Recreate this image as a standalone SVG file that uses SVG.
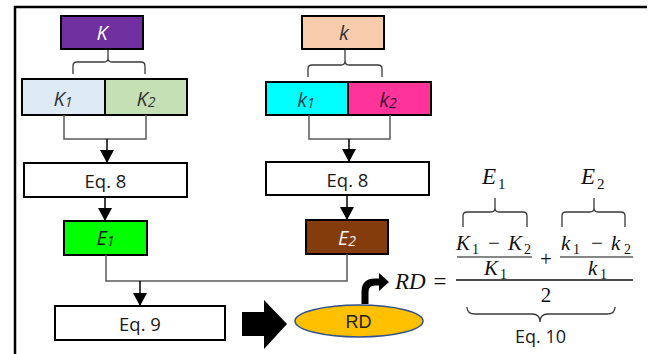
<svg xmlns="http://www.w3.org/2000/svg" width="652" height="354" viewBox="0 0 652 354">
<defs>
<marker id="ah" markerUnits="userSpaceOnUse" markerWidth="13" markerHeight="14" refX="13" refY="7" orient="auto"><path d="M0,0 L13,7 L0,14 z" fill="#000"/></marker>
<style>
.box{stroke:#000;stroke-width:2}
.lbl{font-family:"Open Sans","Liberation Sans",sans-serif;font-style:italic;font-size:20px;text-anchor:middle}
.eq{font-family:"Open Sans","Liberation Sans",sans-serif;font-size:18.5px;text-anchor:middle;fill:#1a1a1a}
.ln{fill:none;stroke:#595959;stroke-width:1.5}
.ar{fill:none;stroke:#000;stroke-width:1.5}
.br{fill:none;stroke:#3a3a3a;stroke-width:1.3}
.m{font-family:"Liberation Serif","DejaVu Serif",serif;font-style:italic;font-size:21px;fill:#111}
.mu{font-family:"Liberation Serif","DejaVu Serif",serif;font-size:21px;fill:#111}
.sub{font-family:"Liberation Serif","DejaVu Serif",serif;font-size:14px;fill:#111}
.s{font-size:14px}
</style>
</defs>
<rect width="652" height="354" fill="#fff"/>
<!-- frame -->
<path d="M14,7 H647 M15,6 V354" stroke="#000" stroke-width="2.5" fill="none"/>

<g id="node-K"><rect class="box" x="61" y="16" width="82" height="33" fill="#7030A0"/><text class="lbl" x="102" y="39.5" fill="#fff">K</text></g>
<g id="node-K1"><rect class="box" x="22" y="79" width="83" height="36" fill="#DEEBF7"/><text class="lbl" x="63" y="106" fill="#333">K<tspan class="s" dy="1">1</tspan></text></g>
<g id="node-K2"><rect class="box" x="105" y="79" width="82" height="36" fill="#C5E0B4"/><text class="lbl" x="146" y="106" fill="#333">K<tspan class="s" dy="1">2</tspan></text></g>
<g id="node-eq8-left"><rect class="box" x="24" y="163" width="163" height="34" fill="#fff"/><text class="eq" x="105.5" y="188">Eq. 8</text></g>
<g id="node-E1"><rect class="box" x="64" y="221" width="83" height="34" fill="#00FF00"/><text class="lbl" x="105.5" y="245" fill="#1a1a1a">E<tspan class="s" dy="1">1</tspan></text></g>
<g id="node-eq9"><rect class="box" x="55" y="306" width="170" height="34" fill="#fff"/><text class="eq" x="140" y="331">Eq. 9</text></g>

<g id="node-k"><rect class="box" x="302" y="16" width="82" height="33" fill="#F8CBAD"/><text class="lbl" x="344" y="40" fill="#333">k</text></g>
<g id="node-k1"><rect class="box" x="266" y="82" width="82" height="33" fill="#00FFFF"/><text class="lbl" x="306" y="107" fill="#1f3f4a">k<tspan class="s" dy="1">1</tspan></text></g>
<g id="node-k2"><rect class="box" x="348" y="82" width="83" height="33" fill="#FF3399"/><text class="lbl" x="388" y="107" fill="#3d0f33">k<tspan class="s" dy="1">2</tspan></text></g>
<g id="node-eq8-right"><rect class="box" x="266" y="162" width="163" height="33" fill="#fff"/><text class="eq" x="347.5" y="187">Eq. 8</text></g>
<g id="node-E2"><rect class="box" x="306" y="220" width="82" height="34" fill="#843C0C"/><text class="lbl" x="347" y="245" fill="#f2f2f2">E<tspan class="s" dy="1">2</tspan></text></g>

<g id="node-RD"><ellipse cx="359" cy="321" rx="64" ry="16" fill="#FFC000" stroke="#2F528F" stroke-width="1.5"/><text x="358.5" y="328" font-family="'Liberation Sans',Arial,sans-serif" font-size="18" text-anchor="middle" fill="#222">RD</text></g>

<g id="connectors">
<path class="br" d="M73,74 V66 Q73,62 77,62 H104 Q108,62 108,58 V50 M108,58 Q108,62 112,62 H141 Q145,62 145,66 V74"/>
<path class="br" d="M308,77 V69 Q308,65 312,65 H341 Q345,65 345,61 V50 M345,61 Q345,65 349,65 H378 Q382,65 382,69 V77"/>
<path class="ln" d="M64,115 V139 H146 V115"/>
<path class="ar" d="M107,139 V163" marker-end="url(#ah)"/>
<path class="ln" d="M309,115 V139 H390 V115"/>
<path class="ar" d="M349,139 V162" marker-end="url(#ah)"/>
<path class="ar" d="M105,197 V221" marker-end="url(#ah)"/>
<path class="ar" d="M347,195 V220" marker-end="url(#ah)"/>
<path class="ln" d="M106,255 V281 H347 V254"/>
<path class="ar" d="M140,281 V306" marker-end="url(#ah)"/>
<polygon points="242,312 264,312 264,300 287,324 264,349 264,336 242,336" fill="#000"/>
<path d="M365,304 V292 Q365,282 375,282 H381" fill="none" stroke="#000" stroke-width="7"/>
<polygon points="379,273 389,282 379,291" fill="#000"/>
</g>

<g id="formula">
<text class="m" x="395" y="289" style="font-size:23px">RD</text>
<text class="mu" x="440" y="289" style="font-size:23px" text-anchor="middle">=</text>
<line x1="456" y1="280" x2="633" y2="280" stroke="#111" stroke-width="1.3"/>
<line x1="457" y1="257" x2="532" y2="257" stroke="#111" stroke-width="1.2"/>
<line x1="560" y1="257" x2="633" y2="257" stroke="#111" stroke-width="1.2"/>
<text class="m" x="456" y="250">K</text><text class="sub" x="472" y="254">1</text>
<text class="mu" x="494" y="250" text-anchor="middle">−</text>
<text class="m" x="508" y="250">K</text><text class="sub" x="524" y="254">2</text>
<text class="m" x="484" y="275">K</text><text class="sub" x="500" y="279">1</text>
<text class="mu" x="546" y="266" text-anchor="middle">+</text>
<text class="m" x="561" y="250">k</text><text class="sub" x="573" y="254">1</text>
<text class="mu" x="597" y="250" text-anchor="middle">−</text>
<text class="m" x="611" y="250">k</text><text class="sub" x="624" y="254">2</text>
<text class="m" x="588" y="275">k</text><text class="sub" x="600" y="279">1</text>
<text class="mu" x="546" y="302" text-anchor="middle">2</text>
<text class="m" x="482" y="184" style="font-size:23px">E</text><text class="sub" x="498" y="189" style="font-size:15px">1</text>
<text class="m" x="581" y="184" style="font-size:23px">E</text><text class="sub" x="597" y="189" style="font-size:15px">2</text>
<path class="br" d="M463,227 V216 Q463,212 467,212 H491 Q495,212 495,208 V198 M495,208 Q495,212 499,212 H523 Q527,212 527,216 V227"/>
<path class="br" d="M562,227 V216 Q562,212 566,212 H590 Q594,212 594,208 V198 M594,208 Q594,212 598,212 H621 Q625,212 625,216 V227"/>
<path class="br" d="M467,307 Q467,314 475,314 H532 Q540,314 540,322 Q540,314 548,314 H607 Q615,314 615,307"/>
<text class="eq" x="540.5" y="343" style="font-size:18px">Eq. 10</text>
</g>
</svg>
